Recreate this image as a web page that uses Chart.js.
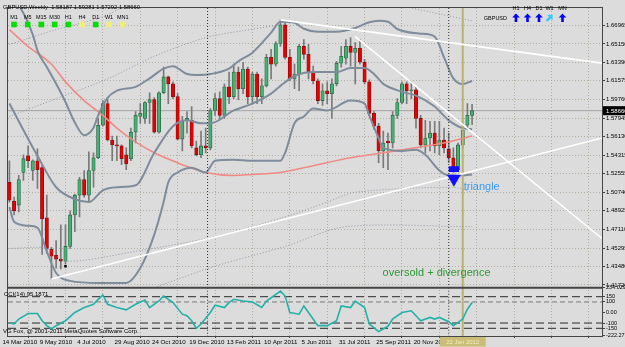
<!DOCTYPE html>
<html>
<head>
<meta charset="utf-8">
<script src="https://cdn.jsdelivr.net/npm/chart.js@4.4.1/dist/chart.umd.min.js"></script>
<style>
html, body { margin: 0; padding: 0; background: #dcdcdc; }
#wrap { width: 625px; height: 347px; }
</style>
</head>
<body>
<div id="wrap"><canvas id="chart" width="625" height="347"></canvas></div>
<script>
// GBPUSD weekly, bar 0 = week of 14 Mar 2010
const opens = [1.5169,1.4987,1.4948,1.5265,1.5427,1.5284,1.5379,1.5312,1.4824,1.4517,
  1.4460,1.4421,1.4402,1.4546,1.4852,1.5044,1.5197,1.5044,1.5284,1.5408,
  1.5724,1.5935,1.5581,1.5533,1.5523,1.5437,1.5399,1.5657,1.5810,1.5791,
  1.5945,1.5973,1.5657,1.6040,1.6194,1.6127,1.6002,1.5590,1.5772,1.5772,
  1.5504,1.5437,1.5523,1.5504,1.5868,1.5983,1.5820,1.6098,1.6002,1.6242,
  1.6079,1.6270,1.6002,1.6222,1.6002,1.6107,1.6385,1.6318,1.6519,1.6701,
  1.6385,1.6175,1.6222,1.6491,1.6414,1.6242,1.6155,1.5964,1.6060,1.6031,
  1.6127,1.6328,1.6376,1.6491,1.6433,1.6472,1.6337,1.6146,1.5839,1.5715,
  1.5475,1.5571,1.5552,1.5820,1.5945,1.6127,1.6060,1.6069,1.5791,1.5533,
  1.5600,1.5648,1.5523,1.5581,1.5494,1.5408,1.5293,1.5533,1.5724,1.58187];
const highs = [1.5379,1.5025,1.5236,1.5437,1.5523,1.5389,1.5494,1.5331,1.5044,1.4536,
  1.4603,1.4757,1.4757,1.4891,1.5054,1.5217,1.5284,1.5466,1.5456,1.5791,
  1.5964,1.5983,1.5619,1.5619,1.5533,1.5504,1.5696,1.5858,1.5935,1.5954,
  1.6040,1.5993,1.6050,1.6290,1.6203,1.6146,1.6031,1.5810,1.5858,1.5906,
  1.5571,1.5667,1.5696,1.5887,1.6031,1.6050,1.6127,1.6242,1.6318,1.6290,
  1.6337,1.6290,1.6242,1.6242,1.6175,1.6414,1.6462,1.6539,1.6749,1.6730,
  1.6462,1.6318,1.6510,1.6558,1.6510,1.6299,1.6175,1.6127,1.6146,1.6175,
  1.6347,1.6491,1.6558,1.6577,1.6529,1.6558,1.6366,1.6165,1.5858,1.5743,
  1.5667,1.5648,1.5858,1.5983,1.6146,1.6146,1.6146,1.6098,1.5820,1.5772,
  1.5763,1.5763,1.5763,1.5696,1.5648,1.5504,1.5552,1.5743,1.5935,1.59281];
const lows = [1.4977,1.4852,1.4881,1.5188,1.5312,1.5188,1.5111,1.4469,1.4479,1.4230,
  1.4335,1.4326,1.4373,1.4527,1.4690,1.4833,1.5025,1.4977,1.5121,1.5399,
  1.5715,1.5571,1.5379,1.5379,1.5341,1.5293,1.5379,1.5552,1.5743,1.5743,
  1.5743,1.5648,1.5648,1.6031,1.5935,1.5983,1.5581,1.5475,1.5648,1.5504,
  1.5427,1.5408,1.5456,1.5485,1.5820,1.5791,1.5791,1.5935,1.5983,1.5973,
  1.6031,1.5935,1.5935,1.5935,1.5935,1.6098,1.6175,1.6299,1.6491,1.6366,
  1.6155,1.6079,1.6060,1.6366,1.6175,1.6127,1.5935,1.5916,1.5935,1.5791,
  1.6107,1.6290,1.6318,1.6299,1.6127,1.6318,1.6127,1.5820,1.5686,1.5360,
  1.5312,1.5293,1.5504,1.5791,1.5935,1.5935,1.5983,1.5696,1.5504,1.5456,
  1.5475,1.5456,1.5437,1.5456,1.5360,1.5265,1.5284,1.5504,1.5696,1.57292];
const closes = [1.4996,1.4891,1.5197,1.5399,1.5379,1.5379,1.5293,1.4814,1.4527,1.4450,
  1.4421,1.4402,1.4546,1.4852,1.5044,1.5197,1.5044,1.5284,1.5408,1.5724,
  1.5935,1.5581,1.5533,1.5523,1.5399,1.5351,1.5657,1.5820,1.5839,1.5945,
  1.5973,1.5657,1.6040,1.6194,1.6127,1.6002,1.5590,1.5763,1.5791,1.5523,
  1.5437,1.5523,1.5504,1.5868,1.5983,1.5820,1.6098,1.6002,1.6242,1.6079,
  1.6270,1.6002,1.6222,1.6002,1.6107,1.6385,1.6318,1.6519,1.6701,1.6385,
  1.6175,1.6222,1.6491,1.6414,1.6242,1.6155,1.5964,1.6060,1.6031,1.6127,
  1.6328,1.6395,1.6491,1.6433,1.6472,1.6337,1.6146,1.5839,1.5715,1.5475,
  1.5552,1.5552,1.5820,1.5945,1.6127,1.6060,1.6069,1.5791,1.5533,1.5600,
  1.5648,1.5523,1.5581,1.5504,1.5408,1.5293,1.5533,1.5676,1.5820,1.58660];

// indicator lines: [bar, price]
const bbUpper = [[-1,1.7040],[2,1.6893],[5,1.6606],[6,1.6450],[8,1.6290],[10,1.6127],[12,1.5950],
  [14,1.5750],[16,1.5628],[18,1.5700],[19,1.5820],[21,1.5990],[23,1.6060],[27,1.6098],[30,1.6180],
  [33,1.6275],[35,1.6299],[38,1.6222],[40,1.6213],[43,1.6222],[47,1.6275],[49,1.6347],[52,1.6430],
  [56,1.6625],[58,1.6730],[61,1.6720],[63,1.6663],[66,1.6634],[70,1.6634],[74,1.6670],[77,1.6725],
  [79,1.6740],[81,1.6730],[83,1.6660],[88,1.6615],[91,1.6587],[93,1.6385],[95,1.6180],[97,1.6125],[99,1.6155]];
const bbMiddle = [[0,1.5935],[6,1.5427],[10,1.5121],[14,1.5006],[17,1.4977],[20,1.5092],[23,1.5121],
  [27,1.5140],[31,1.5456],[35,1.5715],[38,1.5772],[41,1.5743],[43,1.5743],[48,1.5868],[52,1.5935],
  [56,1.6031],[58,1.6107],[61,1.6203],[65,1.6242],[70,1.6242],[73,1.6280],[76,1.6280],[78,1.6222],
  [80,1.6127],[84,1.6050],[87,1.6012],[91,1.5906],[94,1.5772],[97,1.5696],[99,1.5686]];
const bbLower = [[0,1.4929],[1,1.4785],[4,1.4747],[6,1.4728],[8,1.4498],[10,1.4287],[13,1.4211],
  [19,1.4191],[25,1.4191],[28,1.4335],[31,1.4661],[33,1.4977],[34,1.5169],[36,1.5265],[39,1.5312],
  [42,1.5265],[44,1.5379],[48,1.5389],[52,1.5379],[58,1.5379],[59,1.5456],[61,1.5743],[63,1.5810],
  [65,1.5887],[68,1.5868],[73,1.5964],[76,1.5935],[77,1.5820],[79,1.5600],[80,1.5504],[84,1.5475],
  [87,1.5485],[89,1.5437],[92,1.5284],[94,1.5236],[97,1.5236],[99,1.5246]];
const maSlow = [[0,1.6654],[4,1.6491],[9,1.6318],[12,1.6146],[16,1.5964],[20,1.5820],[23,1.5696],
  [27,1.5562],[31,1.5456],[37,1.5341],[42,1.5265],[48,1.5236],[52,1.5246],[58,1.5265],[65,1.5331],
  [73,1.5408],[84,1.5485],[94,1.5562],[99,1.5619]];
const outerBands = [
  [[0,1.5810],[10,1.5983],[21,1.6175],[31,1.6395],[42,1.6577],[50,1.6644],[58,1.6701]],
  [[0,1.6510],[10,1.6654],[20,1.6778],[25,1.6893],[29,1.6970]],
  [[83,1.6893],[90,1.6826],[99,1.6740]],
  [[0,1.4527],[8,1.4527],[12,1.4402],[27,1.4498],[44,1.4642],[59,1.4833],[68,1.4977],[74,1.5073],[95,1.5121],[99,1.5073]],
  [[31,1.4144],[35,1.4211],[44,1.4354],[59,1.4546],[72,1.4738],[99,1.4738]]
];

// CCI(14)
const cciBars = [0,1,2,4,5,6,7,8,9,10,12,14,16,18,19,20,21,23,25,27,29,30,32,33,35,37,38,39,40,41,
  43,44,46,47,48,50,52,54,55,58,59,60,62,63,64,66,68,70,71,73,74,76,77,79,81,82,84,86,88,90,91,92,94,95,97,98,99];
const cciVals = [-100,-109,-62,-9,-9,-9,-78,-125,-156,-125,-78,0,47,78,125,166,78,47,25,78,
  119,47,109,156,94,-16,-31,-78,-150,-109,0,69,47,94,125,109,100,47,109,203,
  156,0,-16,62,0,-125,-125,-78,62,47,109,47,-109,-181,-131,-62,0,16,-78,-47,
  -62,-47,-87,-125,-62,31,95.19];
const cciLevels = [150, 100, -100, -150];

// trendlines drawn on the chart: [bar1, price1, bar2, price2]
const trendLines = [[58,1.6749,126.8,1.6328],[74,1.6586,126.8,1.4623],[9,1.4230,126.8,1.5600]];
const periodSeparators = [42.4, 94];
const vlineBar = 97;

// axes
const priceTicks = [1.66965,1.65150,1.63390,1.61575,1.59760,1.57945,1.56130,1.54315,1.52555,
  1.50740,1.48925,1.47110,1.45295,1.43480,1.41720];
const cciTicks = [234.0296, 150, 100, 0, -100, -150, -222.2727];
const cciTickLabels = ['234.0296','150','100','0.00','-100','-150','-222.2727'];
const gridBars = [0,8,16,24,32,40,48,56,64,72,80,88,96,104,112,120];
const dateLabels = ['14 Mar 2010','9 May 2010','4 Jul 2010','29 Aug 2010','24 Oct 2010','19 Dec 2010',
  '13 Feb 2011','10 Apr 2011','5 Jun 2011','31 Jul 2011','25 Sep 2011','20 Nov 2011'];

const xMin = -0.3, xMax = 126.8;
const yPMin = 1.41441, yPMax = 1.68644;
const yCMin = -223, yCMax = 235;
const FONT = '"Liberation Sans", Arial, sans-serif';
const gridColor = 'rgba(150,145,120,0.6)';

const bars = opens.map((o, i) => i);
const pts = arr => arr.map(([x, y]) => ({x, y}));
const isBull = i => closes[i] >= opens[i];

const lineBase = { type: 'line', pointRadius: 0, fill: false, yAxisID: 'yP' };

const datasets = [
  { ...lineBase, data: [{x: xMin, y: closes[99]}, {x: xMax, y: closes[99]}], borderColor: '#a4a4a4', borderWidth: 1, order: 9 },
  { type: 'bar', yAxisID: 'yP', data: bars.map(i => ({x: i, y: [lows[i], highs[i]]})), barThickness: 1,
    backgroundColor: '#7a7a7a', grouped: false, order: 8 },
  { type: 'bar', yAxisID: 'yP', data: bars.map(i => ({x: i, y: [opens[i], closes[i]]})), barThickness: 3.4,
    backgroundColor: bars.map(i => isBull(i) ? '#45b073' : '#e60000'),
    borderColor: bars.map(i => isBull(i) ? '#2b6b47' : '#8a1010'),
    borderWidth: 0.8, borderSkipped: false, minBarLength: 1, grouped: false, order: 7 },
  ...outerBands.map(b => ({ ...lineBase, data: pts(b), borderColor: '#8e99a8', borderWidth: 1, borderDash: [1, 2], tension: 0.3, order: 6 })),
  ...[bbUpper, bbMiddle, bbLower].map(b => ({ ...lineBase, data: pts(b), borderColor: '#7e8c9c', borderWidth: 2, cubicInterpolationMode: 'monotone', order: 4 })),
  { ...lineBase, data: pts(maSlow), borderColor: '#f08a84', borderWidth: 1.6, cubicInterpolationMode: 'monotone', order: 4 },
  ...periodSeparators.map(b => ({ ...lineBase, data: [{x: b, y: yPMax}, {x: b, y: yPMin}], borderColor: '#303030', borderWidth: 1, borderDash: [1, 2], order: 3 })),
  ...periodSeparators.map(b => ({ ...lineBase, yAxisID: 'yC', data: [{x: b, y: yCMax}, {x: b, y: yCMin}], borderColor: '#303030', borderWidth: 1, borderDash: [1, 2], order: 3 })),
  { ...lineBase, data: [{x: vlineBar, y: yPMax}, {x: vlineBar, y: yPMin}], borderColor: '#b9b070', borderWidth: 2, order: 3 },
  { ...lineBase, yAxisID: 'yC', data: [{x: vlineBar, y: yCMax}, {x: vlineBar, y: yCMin}], borderColor: '#b9b070', borderWidth: 2, order: 3 },
  ...cciLevels.map(l => ({ ...lineBase, yAxisID: 'yC', data: [{x: xMin, y: l}, {x: xMax, y: l}],
    borderColor: l === 100 ? '#7a7a7a' : '#2a2a2a', borderWidth: 1, borderDash: l === 100 ? [5, 3] : [8, 4], order: 2 })),
  { ...lineBase, yAxisID: 'yC', data: cciBars.map((b, i) => ({x: b, y: cciVals[i]})), borderColor: '#22b2a8', borderWidth: 1.6, order: 1 },
  ...trendLines.map(t => ({ ...lineBase, data: [{x: t[0], y: t[1]}, {x: t[2], y: t[3]}], borderColor: '#ffffff', borderWidth: 1.6, order: 0 })),
  { ...lineBase, showLine: false, data: [{x: 94.6, y: 1.5298}, {x: 95.6, y: 1.5298}], pointStyle: 'rect', pointRadius: 4,
    pointBackgroundColor: '#1010ff', pointBorderColor: '#1010ff', pointBorderWidth: 0, order: -1 },
  { ...lineBase, showLine: false, data: [{x: 95.1, y: 1.5204}], pointStyle: 'triangle', rotation: 180, pointRadius: 8,
    pointBackgroundColor: '#1010ff', pointBorderColor: '#1010ff', pointBorderWidth: 0, order: -1 },
  { ...lineBase, showLine: false, data: [{x: 12, y: 1.4354}], pointStyle: 'rect', pointRadius: 1.8,
    pointBackgroundColor: '#000', pointBorderWidth: 0, order: -1 }
];

const notes = [
  { text: 'triangle', bar: 97.2, price: 1.5092, color: '#3d9bf0' },
  { text: 'oversold + divergence', bar: 79.85, price: 1.4263, color: '#2f9a35' }
];

function arrow(ctx, cx, cy, angle, color) {
  ctx.save();
  ctx.translate(cx, cy);
  ctx.rotate(angle);
  ctx.fillStyle = color;
  ctx.beginPath();
  ctx.moveTo(0, -4.5); ctx.lineTo(3.8, -0.6); ctx.lineTo(1.3, -0.6); ctx.lineTo(1.3, 4);
  ctx.lineTo(-1.3, 4); ctx.lineTo(-1.3, -0.6); ctx.lineTo(-3.8, -0.6);
  ctx.closePath(); ctx.fill();
  ctx.restore();
}

const overlay = {
  id: 'overlay',
  beforeDraw(chart) {
    const ctx = chart.ctx;
    ctx.save();
    ctx.fillStyle = '#dcdcdc';
    ctx.fillRect(0, 0, chart.width, chart.height);
    ctx.restore();
  },
  afterDraw(chart) {
    const { ctx, chartArea: a } = chart;
    const { x, yP } = chart.scales;
    ctx.save();
    // frame and pane separator
    ctx.strokeStyle = '#454545';
    ctx.lineWidth = 1;
    ctx.strokeRect(a.left - 0.5, a.top - 0.5, a.right - a.left + 1, a.bottom - a.top + 1);
    ctx.lineWidth = 2;
    ctx.beginPath(); ctx.moveTo(a.left, yP.bottom); ctx.lineTo(a.right, yP.bottom); ctx.stroke();

    // chart texts
    notes.forEach(n => {
      ctx.font = '11px ' + FONT;
      ctx.fillStyle = n.color;
      ctx.textAlign = 'left';
      ctx.textBaseline = 'alphabetic';
      ctx.fillText(n.text, x.getPixelForValue(n.bar), yP.getPixelForValue(n.price));
    });

    // header
    ctx.fillStyle = '#000';
    ctx.font = '5.8px ' + FONT;
    ctx.textAlign = 'left';
    ctx.fillText('GBPUSD,Weekly  1.58187 1.59281 1.57292 1.58660', 3, 9);

    // timeframe signal squares
    const tfs = ['M1','M5','M15','M30','H1','H4','D1','W1','MN1'];
    const tfX = [14, 27.7, 41.3, 54.7, 68.3, 82, 95.7, 109, 122.7];
    const tfOn = [1, 1, 1, 1, 1, 0, 1, 0, 0];
    ctx.font = '5.5px ' + FONT;
    ctx.textAlign = 'center';
    tfs.forEach((t, i) => {
      ctx.fillStyle = '#000';
      ctx.fillText(t, tfX[i], 19);
      ctx.fillStyle = tfOn[i] ? '#00e000' : '#eeee7a';
      ctx.fillRect(tfX[i] - 2.8, 21.7, 5.6, 5.6);
    });

    // trend arrows top right
    const arX = [516, 527.5, 539, 549.5, 562.5];
    const arT = ['H1','H4','D1','W1','MN'];
    arT.forEach((t, i) => {
      ctx.fillStyle = '#000';
      ctx.fillText(t, arX[i], 10);
      if (i === 3) arrow(ctx, arX[i], 18, Math.PI / 4, '#33c8ff');
      else arrow(ctx, arX[i], 18, 0, '#0000ff');
    });
    ctx.textAlign = 'right';
    ctx.fillStyle = '#000';
    ctx.fillText('GBPUSD', 507, 20);

    // CCI pane texts
    ctx.textAlign = 'left';
    ctx.font = '6px ' + FONT;
    ctx.fillText('CCI(14) 95.1871', 4, 296);
    ctx.fillText('VG Fox, @ 2001-2011 MetaQuotes Software Corp.', 3, 333);

    // current price box
    const py = yP.getPixelForValue(closes[99]);
    ctx.fillStyle = '#000';
    ctx.fillRect(a.right + 1, py - 4.5, 23, 9);
    ctx.fillStyle = '#fff';
    ctx.font = '6px ' + FONT;
    ctx.textBaseline = 'middle';
    ctx.fillText('1.58660', a.right + 4, py + 0.5);

    // vertical line label
    const vx = x.getPixelForValue(vlineBar);
    ctx.fillStyle = '#c9bd78';
    ctx.fillRect(vx - 23, a.bottom + 1, 46, 9.5);
    ctx.fillStyle = '#f3edc4';
    ctx.textAlign = 'center';
    ctx.fillText('22 Jan 2012', vx, a.bottom + 6);
    ctx.restore();
  }
};

new Chart(document.getElementById('chart'), {
  type: 'bar',
  data: { datasets },
  options: {
    responsive: false,
    animation: false,
    events: [],
    layout: { padding: { left: 1, top: 3, right: 0, bottom: 0 } },
    plugins: { legend: { display: false }, tooltip: { enabled: false } },
    scales: {
      x: {
        type: 'linear', min: xMin, max: xMax, offset: false,
        afterBuildTicks: s => { s.ticks = gridBars.map(v => ({ value: v })); },
        afterFit: s => { s.height = 11; },
        grid: { color: gridColor, drawTicks: true, tickLength: 2, tickColor: '#454545' },
        border: { display: true, color: '#454545', dash: [1, 2] },
        ticks: { autoSkip: false, maxRotation: 0, minRotation: 0, align: 'start', labelOffset: -7, padding: 1, color: '#000',
          font: { family: FONT, size: 6.2 }, callback: (v, i) => dateLabels[i] || '' }
      },
      yP: {
        type: 'linear', position: 'right', stack: 'panes', stackWeight: 284, weight: 1,
        min: yPMin, max: yPMax,
        afterBuildTicks: s => { s.ticks = priceTicks.map(v => ({ value: v })); },
        afterFit: s => { s.width = 23; },
        grid: { color: gridColor, drawTicks: true, tickLength: 3, tickColor: '#454545' },
        border: { display: true, color: '#454545', dash: [1, 2] },
        ticks: { autoSkip: false, padding: 1, color: '#000', font: { family: FONT, size: 6 },
          callback: v => v.toFixed(5) }
      },
      yC: {
        type: 'linear', position: 'right', stack: 'panes', stackWeight: 49, weight: 2,
        min: yCMin, max: yCMax,
        afterBuildTicks: s => { s.ticks = cciTicks.map(v => ({ value: v })); },
        afterFit: s => { s.width = 23; },
        grid: { drawOnChartArea: false, drawTicks: true, tickLength: 3, tickColor: '#454545' },
        border: { display: true, color: '#454545' },
        ticks: { autoSkip: false, padding: 1, color: '#000', font: { family: FONT, size: 5.5 },
          callback: (v, i) => cciTickLabels[i] }
      }
    }
  },
  plugins: [overlay]
});
</script>
</body>
</html>
